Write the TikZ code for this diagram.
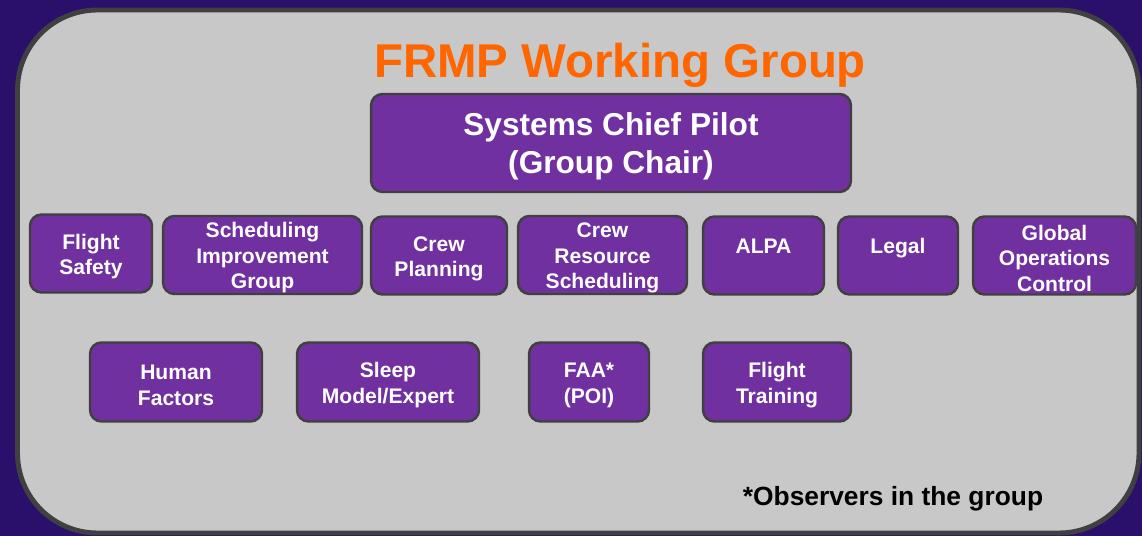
\documentclass[tikz,border=0pt]{standalone}
\usepackage{fontspec}
\setmainfont{Liberation Sans}

\definecolor{nightpurple}{RGB}{42,16,106}
\definecolor{panelgray}{RGB}{200,200,200}
\definecolor{edgegray}{RGB}{64,64,64}
\definecolor{boxpurple}{RGB}{112,48,160}
\definecolor{titleorange}{RGB}{255,102,0}

% taller first line, pushes the text a little down in its box
\newcommand{\upstrut}{\rule{0pt}{12pt}}
\newcommand{\chairstrut}{\rule{0pt}{17pt}}

\begin{document}
\begin{tikzpicture}[x=0.02cm,y=-0.02cm,
  frame/.style={draw=edgegray,line width=2.8pt,fill=panelgray,rounded corners=1.6cm},
  member/.style={draw=edgegray,line width=1.4pt,fill=boxpurple,rounded corners=6.5pt,
    text=white,align=center,inner sep=0pt,minimum height=1.56cm,
    font=\bfseries\fontsize{12}{14.5}\selectfont},
  chair/.style={member,minimum height=1.96cm,minimum width=9.6cm,
    font=\bfseries\fontsize{18}{22}\selectfont},
  title/.style={text=titleorange,font=\bfseries\fontsize{27}{32}\selectfont},
  note/.style={text=black,font=\bfseries\fontsize{15}{18}\selectfont}]

  \useasboundingbox (0,0) rectangle (1142,536);
  \fill[nightpurple] (0,0) rectangle (1142,536);
  \draw[frame] (17.5,10) rectangle (1139,533);

  \node[title,anchor=base] (title) at (620,78) {FRMP Working Group};
  \node[chair] (chief) at (611,143) {\chairstrut Systems Chief Pilot\\(Group Chair)};

  % first row
  \node[member,minimum width=2.44cm] (fsafety) at (91,253.5) {\upstrut Flight\\Safety};
  \node[member,minimum width=3.98cm] (sig)     at (262.5,255) {\upstrut Scheduling\\Improvement\\Group};
  \node[member,minimum width=2.72cm] (cplan)   at (439,255.5) {\upstrut Crew\\Planning};
  \node[member,minimum width=3.38cm] (crs)     at (602.5,255) {\upstrut Crew\\Resource\\Scheduling};
  \node[member,minimum width=2.42cm] (alpa)    at (763.5,255.5) {\upstrut ALPA\\~};
  \node[member,minimum width=2.40cm] (legal)   at (898,255.5) {\upstrut Legal\\~};
  \node[member,minimum width=3.26cm] (goc)     at (1054.5,255.5) {\upstrut Global\\Operations\\Control};

  % second row
  \node[member,minimum width=3.44cm,minimum height=1.58cm] (hf)     at (176,382) {\upstrut Human\\Factors};
  \node[member,minimum width=3.64cm,minimum height=1.58cm] (sleep)  at (388,382) {\upstrut Sleep\\Model/Expert};
  \node[member,minimum width=2.40cm,minimum height=1.58cm] (faa)    at (589,382) {\upstrut FAA*\\(POI)};
  \node[member,minimum width=2.96cm,minimum height=1.58cm] (ftrain) at (777,382) {\upstrut Flight\\Training};

  \node[note,anchor=base] (obs) at (893,505) {*Observers in the group};
\end{tikzpicture}
\end{document}
